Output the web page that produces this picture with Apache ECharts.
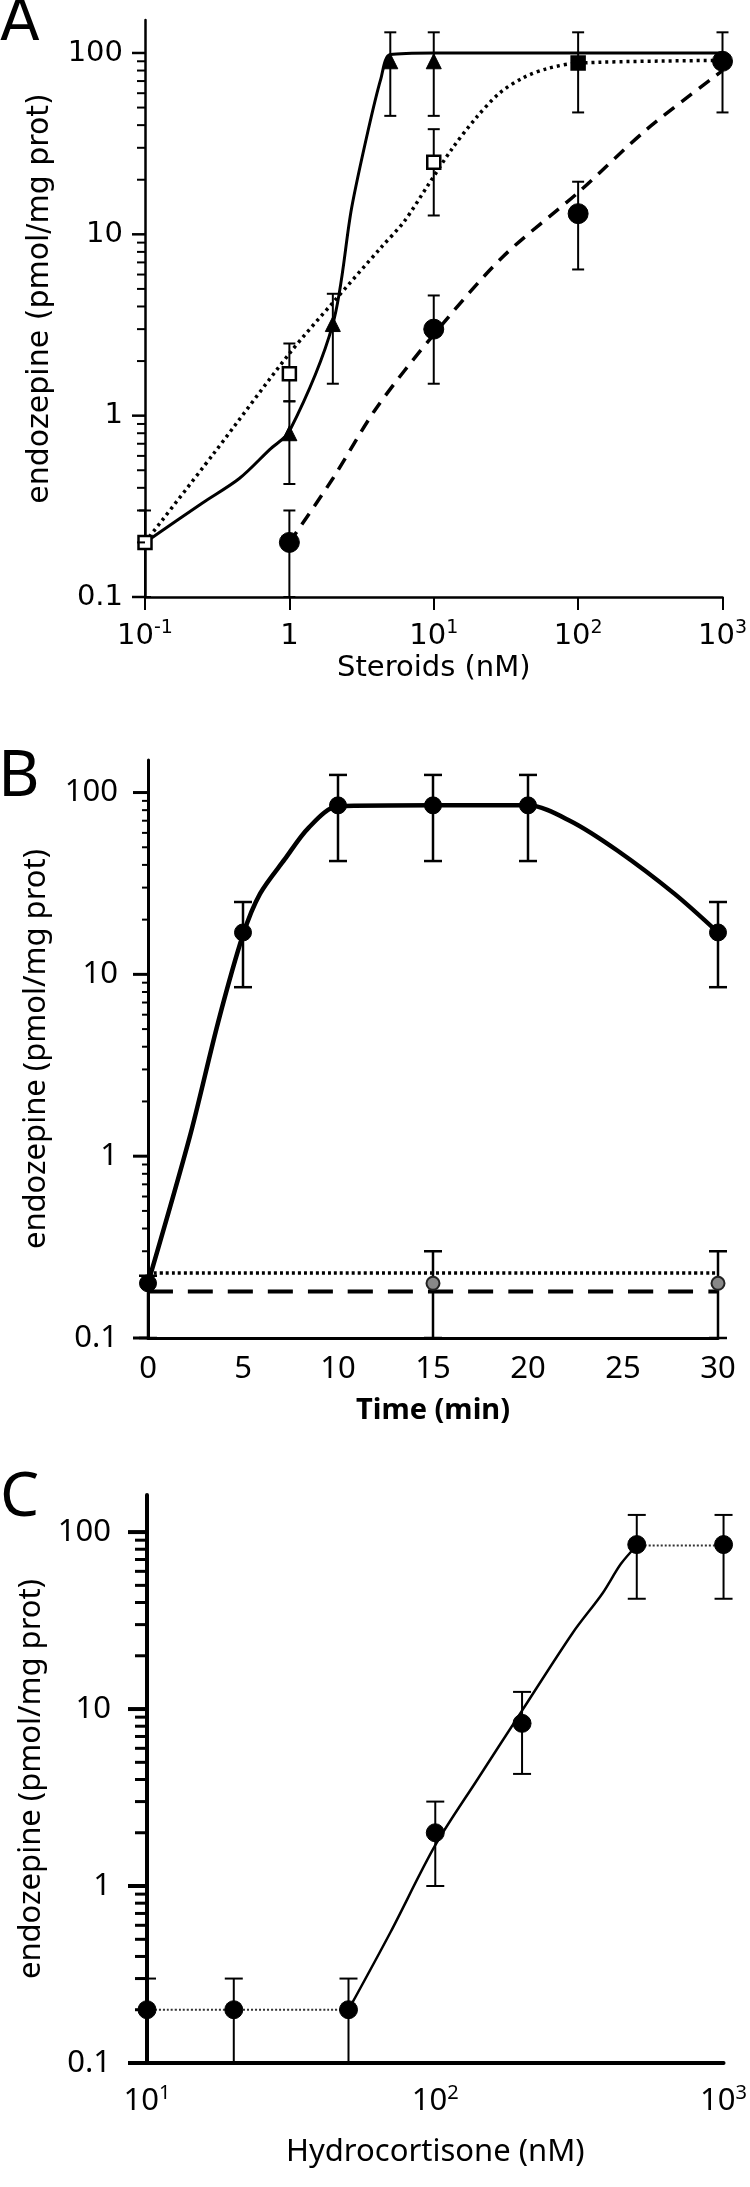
<!DOCTYPE html>
<html><head><meta charset="utf-8">
<script src="https://cdn.jsdelivr.net/npm/echarts@6/dist/echarts.min.js"></script>
<style>html,body{margin:0;padding:0;background:#fff}#c{width:750px;height:2187px}</style>
</head><body><div id="c"></div>
<script>
// ---------- axis ticks ----------
const Y_TICKS = [0.1, 1, 10, 100];
const Y_MINOR = [0.2,0.3,0.4,0.5,0.6,0.7,0.8,0.9,2,3,4,5,6,7,8,9,20,30,40,50,60,70,80,90];
const Y_LABELS = ['0.1', '1', '10', '100'];
const A_X_TICKS = [0.1, 1, 10, 100, 1000];
const A_X_LABELS = ['{b|10}{s|-1}', '{b|1}', '{b|10}{s|1}', '{b|10}{s|2}', '{b|10}{s|3}'];
const B_X_LABELS = ['0', '5', '10', '15', '20', '25', '30'];
const C_X_TICKS = [10, 100, 1000];
const C_X_LABELS = ['{b|10}{s|1}', '{b|10}{s|2}', '{b|10}{s|3}'];

// ---------- Panel A ----------
const A_TRI = [[1,0.8],[2,3.2],[5,90],[10,90]];
const A_TRI_ERR = [[1,0.42,1.2],[2,1.5,4.7],[5,45,130],[10,45,130]];
const A_SQ = [[0.1,0.2],[1,1.7],[10,25],[100,88]];
const A_SQ_ERR = [[0.1,0.1,0.3],[1,1.2,2.5],[10,12.7,38],[100,47,130]];
const A_CIR = [[1,0.2],[10,3],[100,13],[1000,90]];
const A_CIR_ERR = [[1,0.1,0.3],[10,1.5,4.6],[100,6.4,19.5],[1000,47,130]];
const A_SOLID = [[0.1,0.2],[0.25,0.33],[0.45,0.45],[0.73,0.65],[1,0.82],[2,3.2],[2.7,14],[3.5,37],[4.3,72],[5,98],[10,100],[100,100],[1000,100]];
const A_DOTTED = [[0.1,0.2],[0.3,0.62],[1,2.2],[2,4.2],[4.28,8.4],[6.25,11.8],[9.1,18.6],[13.3,29.4],[19.5,43.6],[28.5,60],[41.6,73],[61,82],[100,88],[1000,91]];
const A_DASHED = [[1,0.2],[2,0.45],[4,1.1],[10,2.8],[30,7.5],[100,17],[300,38],[1000,80]];

// ---------- Panel B ----------
const B_PTS = [[0,0.2],[5,17],[10,85],[15,85],[20,85],[30,17]];
const B_ERR = [[0,0.1,0.22],[5,8.5,25],[10,42,125],[15,42,125],[20,42,125],[30,8.5,25]];
const B_CURVE = [[0,0.2],[2.2,1.28],[3.7,5.5],[5,16.5],[5.9,27.8],[7.2,43],[8.45,64],[10,84],[15,85],[20,85],[22.2,70],[24.7,48],[27.7,27.8],[30,17]];
const B_CTRL_PTS = [[15,0.2],[30,0.2]];
const B_CTRL_ERR = [[15,0.1,0.3],[30,0.1,0.3]];
const B_DOTTED = [[0,0.228],[30,0.228]];
const B_DASHED = [[0,0.18],[30,0.18]];

// ---------- Panel C ----------
const C_PTS = [[10,0.2],[20,0.2],[50,0.2],[100,2],[200,8.3],[500,85],[1000,85]];
const C_ERR = [[10,0.1,0.3],[20,0.1,0.3],[50,0.1,0.3],[100,1,3],[200,4.3,12.5],[500,42,125],[1000,42,125]];
const C_FLAT_LOW = [[10,0.2],[50,0.2]];
const C_RISE = [[50,0.2],[70,0.55],[100,1.7],[140,4],[200,9.8],[300,27],[380,45],[440,66],[500,84]];
const C_FLAT_HIGH = [[500,84],[1000,84]];

// ---------- helpers ----------
function labelFor(ticks, labels) {
  return function (v) {
    for (let i = 0; i < ticks.length; i++) {
      if (Math.abs(v - ticks[i]) / ticks[i] < 1e-6) return labels[i];
    }
    return '';
  };
}
function errSeries(data, xi, cap, lw) {
  return {
    type: 'custom', xAxisIndex: xi, yAxisIndex: xi, z: 2, silent: true,
    data: data,
    encode: { x: 0, y: [1, 2] },
    renderItem: function (params, api) {
      const x = api.value(0), lo = api.value(1), hi = api.value(2);
      const p1 = api.coord([x, lo]), p2 = api.coord([x, hi]);
      const st = { stroke: '#000', lineWidth: lw };
      return { type: 'group', children: [
        { type: 'line', shape: { x1: p1[0], y1: p1[1], x2: p2[0], y2: p2[1] }, style: st },
        { type: 'line', shape: { x1: p2[0] - cap, y1: p2[1], x2: p2[0] + cap, y2: p2[1] }, style: st },
        { type: 'line', shape: { x1: p1[0] - cap, y1: p1[1], x2: p1[0] + cap, y2: p1[1] }, style: st }
      ]};
    }
  };
}
function tickSeries(values, xi, xMin, len, lw) {
  return {
    type: 'custom', xAxisIndex: xi, yAxisIndex: xi, z: 5, silent: true,
    data: values.map(v => [xMin, v]),
    encode: { x: 0, y: 1 },
    renderItem: function (params, api) {
      const p = api.coord([api.value(0), api.value(1)]);
      return { type: 'line', shape: { x1: p[0] - len, y1: p[1], x2: p[0], y2: p[1] },
               style: { stroke: '#000', lineWidth: lw } };
    }
  };
}
function lineSeries(data, xi, lw, type, color) {
  return { type: 'line', xAxisIndex: xi, yAxisIndex: xi, data: data, symbol: 'none', smooth: 0.3,
           z: 3, silent: true, lineStyle: { color: color || '#000', width: lw, type: type || 'solid' } };
}
function markSeries(data, xi, symbol, size, fill, border, bw) {
  return { type: 'scatter', xAxisIndex: xi, yAxisIndex: xi, data: data, symbol: symbol, symbolSize: size,
           z: 4, silent: true, itemStyle: { color: fill, borderColor: border, borderWidth: bw, opacity: 1 } };
}

const FA = '"DejaVu Sans", sans-serif';
const FB = '"Noto Sans", sans-serif';

function richLabels(font, big, small) {
  return {
    b: { fontFamily: font, fontSize: big, color: '#000', lineHeight: big + 6, verticalAlign: 'middle' },
    s: { fontFamily: font, fontSize: small, color: '#000', lineHeight: small + 1, verticalAlign: 'top' }
  };
}

const chart = echarts.init(document.getElementById('c'), null, { renderer: 'canvas' });

const option = {
  animation: false,
  backgroundColor: '#fff',
  graphic: [
    { type: 'text', left: 0, top: -4, style: { text: 'A', font: '58px ' + FA, fill: '#000' } },
    { type: 'text', left: -2, top: 746, style: { text: 'B', font: '64px ' + FB, fill: '#000' } },
    { type: 'text', left: 0, top: 1467, style: { text: 'C', font: '62px ' + FB, fill: '#000' } }
  ],
  grid: [
    { left: 145, top: 20, width: 580, height: 577 },
    { left: 148, top: 760, width: 570, height: 578 },
    { left: 147, top: 1495, width: 578, height: 568 }
  ],
  xAxis: [
    { gridIndex: 0, type: 'log', logBase: 10, min: 0.1, max: 1000,
      name: 'Steroids (nM)', nameLocation: 'middle', nameGap: 57,
      nameTextStyle: { fontFamily: FA, fontSize: 29, color: '#000' },
      axisLine: { lineStyle: { color: '#000', width: 2.5 } },
      axisTick: { show: true, inside: false, length: 13, lineStyle: { color: '#000', width: 2 } },
      minorTick: { show: false }, splitLine: { show: false },
      axisLabel: { color: '#000', margin: 22, rich: richLabels(FA, 29, 19),
                   formatter: labelFor(A_X_TICKS, A_X_LABELS) } },
    { gridIndex: 1, type: 'value', min: 0, max: 30, interval: 5,
      name: 'Time (min)', nameLocation: 'middle', nameGap: 58,
      nameTextStyle: { fontFamily: FB, fontSize: 29, fontWeight: 'bold', color: '#000' },
      axisLine: { lineStyle: { color: '#000', width: 3 } },
      axisTick: { show: false }, splitLine: { show: false },
      axisLabel: { fontFamily: FB, fontSize: 31, color: '#000', margin: 16,
                   formatter: function (v) { return B_X_LABELS[Math.round(v / 5)]; } } },
    { gridIndex: 2, type: 'log', logBase: 10, min: 10, max: 1000,
      name: 'Hydrocortisone (nM)', nameLocation: 'middle', nameGap: 74,
      nameTextStyle: { fontFamily: FB, fontSize: 31, color: '#000' },
      axisLine: { lineStyle: { color: '#000', width: 4 } },
      axisTick: { show: false }, minorTick: { show: false }, splitLine: { show: false },
      axisLabel: { color: '#000', margin: 20, rich: richLabels(FB, 31, 20),
                   formatter: labelFor(C_X_TICKS, C_X_LABELS) } }
  ],
  yAxis: [
    { gridIndex: 0, type: 'log', logBase: 10, min: 0.1, max: 152,
      name: 'endozepine (pmol/mg prot)', nameLocation: 'middle', nameGap: 90,
      nameTextStyle: { fontFamily: FA, fontSize: 30, color: '#000', padding: [0, 0, 0, 20] },
      axisLine: { lineStyle: { color: '#000', width: 2.5 } },
      axisTick: { show: false }, minorTick: { show: false }, splitLine: { show: false },
      axisLabel: { fontFamily: FA, fontSize: 29, color: '#000', margin: 22,
                   formatter: labelFor(Y_TICKS, Y_LABELS) } },
    { gridIndex: 1, type: 'log', logBase: 10, min: 0.1, max: 151,
      name: 'endozepine (pmol/mg prot)', nameLocation: 'middle', nameGap: 96,
      nameTextStyle: { fontFamily: FB, fontSize: 31, color: '#000' },
      axisLine: { lineStyle: { color: '#000', width: 3 } },
      axisTick: { show: false }, minorTick: { show: false }, splitLine: { show: false },
      axisLabel: { fontFamily: FB, fontSize: 31, color: '#000', margin: 30,
                   formatter: labelFor(Y_TICKS, Y_LABELS) } },
    { gridIndex: 2, type: 'log', logBase: 10, min: 0.1, max: 162,
      name: 'endozepine (pmol/mg prot)', nameLocation: 'middle', nameGap: 92,
      nameTextStyle: { fontFamily: FB, fontSize: 31, color: '#000' },
      axisLine: { lineStyle: { color: '#000', width: 4 } },
      axisTick: { show: false }, minorTick: { show: false }, splitLine: { show: false },
      axisLabel: { fontFamily: FB, fontSize: 31, color: '#000', margin: 36,
                   formatter: labelFor(Y_TICKS, Y_LABELS) } }
  ],
  series: [
    // ticks
    tickSeries(Y_TICKS, 0, 0.1, 13, 2.5),
    tickSeries(Y_MINOR, 0, 0.1, 8, 2),
    tickSeries(Y_TICKS, 1, 0, 15, 3),
    tickSeries(Y_MINOR, 1, 0, 6, 2),
    tickSeries(Y_TICKS, 2, 10, 19, 4),
    tickSeries(Y_MINOR, 2, 10, 12, 3),
    // Panel A
    lineSeries(A_SOLID, 0, 3),
    lineSeries(A_DOTTED, 0, 3.5, [3, 4]),
    lineSeries(A_DASHED, 0, 3.5, [13, 9]),
    errSeries(A_TRI_ERR, 0, 6, 2),
    errSeries(A_SQ_ERR, 0, 6, 2),
    errSeries(A_CIR_ERR, 0, 6, 2),
    markSeries(A_TRI, 0, 'triangle', 15, '#000', '#000', 1),
    markSeries(A_SQ.map(p => p[0] === 100 ? { value: p, itemStyle: { color: '#000' } } : p), 0, 'rect', 13, '#fff', '#000', 2.5),
    markSeries(A_CIR, 0, 'circle', 20, '#000', '#000', 1),
    // Panel B
    lineSeries(B_CURVE, 1, 4.5),
    lineSeries(B_DOTTED, 1, 3.5, [3, 3]),
    lineSeries(B_DASHED, 1, 4, [25, 15]),
    errSeries(B_ERR, 1, 9, 2.5),
    errSeries(B_CTRL_ERR, 1, 9, 2.5),
    markSeries(B_PTS, 1, 'circle', 17, '#000', '#000', 1),
    markSeries(B_CTRL_PTS, 1, 'circle', 13, '#888', '#222', 2),
    // Panel C
    lineSeries(C_FLAT_LOW, 2, 2, [2, 2], '#333'),
    lineSeries(C_RISE, 2, 2.5),
    lineSeries(C_FLAT_HIGH, 2, 2, [2, 2], '#333'),
    errSeries(C_ERR, 2, 9, 2),
    markSeries(C_PTS, 2, 'circle', 18, '#000', '#000', 1)
  ]
};
chart.setOption(option);
</script>
</body></html>
